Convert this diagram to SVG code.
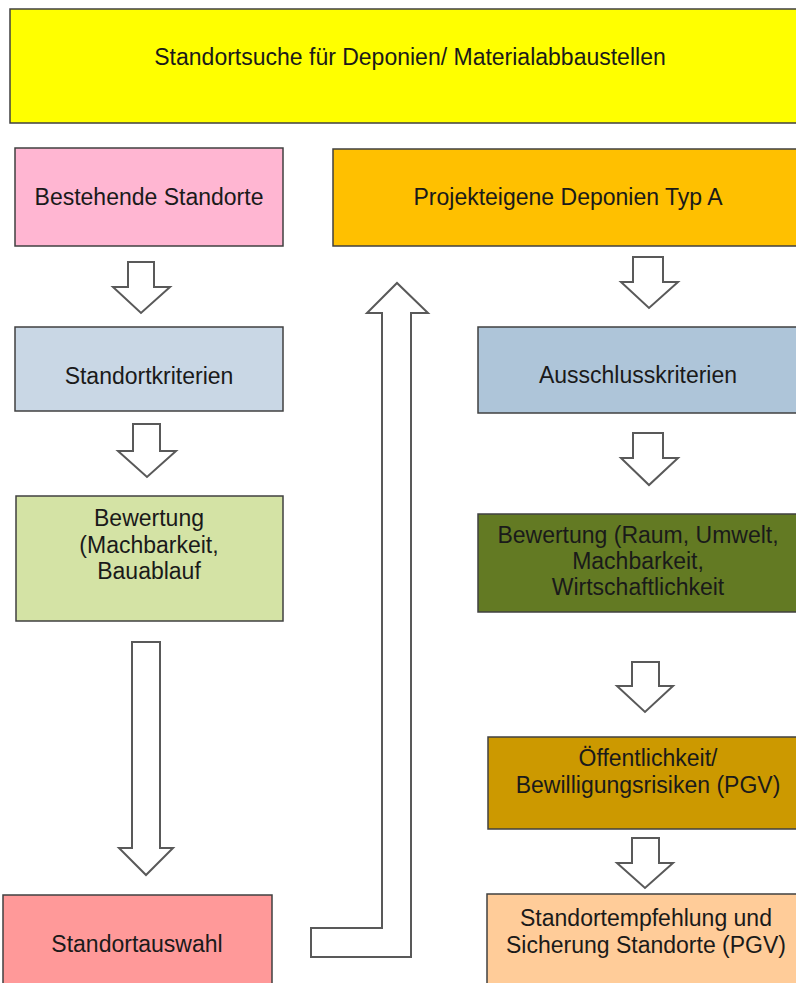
<svg xmlns="http://www.w3.org/2000/svg" width="796" height="983" viewBox="0 0 796 983">
<style>
.box{stroke:#404040;stroke-width:1.5}
.t{font-family:"Liberation Sans",Arial,sans-serif;font-size:23px;fill:#1a1a1a;text-anchor:middle}
.arr{fill:#ffffff;stroke:#595959;stroke-width:2;stroke-linejoin:miter}
</style>
<rect width="796" height="983" fill="#ffffff"/>
<g id="n-top"><rect class="box" x="10" y="9" width="800" height="114" fill="#FFFF00"/><text class="t" x="410" y="65">Standortsuche für Deponien/ Materialabbaustellen</text></g>
<g id="n-bestehend"><rect class="box" x="15" y="148" width="268" height="98" fill="#FFB6D2"/><text class="t" x="149" y="205">Bestehende Standorte</text></g>
<g id="n-kriterien"><rect class="box" x="15" y="327" width="268" height="84" fill="#C9D7E5"/><text class="t" x="149" y="384">Standortkriterien</text></g>
<g id="n-bewertung-l"><rect class="box" x="16" y="496" width="267" height="125" fill="#D4E3A5"/><text class="t" x="149" y="526">Bewertung</text><text class="t" x="149" y="553">(Machbarkeit,</text><text class="t" x="149" y="579">Bauablauf</text></g>
<g id="n-auswahl"><rect class="box" x="3" y="895" width="269" height="100" fill="#FF9999"/><text class="t" x="137" y="952">Standortauswahl</text></g>
<g id="n-projekt"><rect class="box" x="333" y="149" width="471" height="97" fill="#FFC000"/><text class="t" x="568" y="205">Projekteigene Deponien Typ A</text></g>
<g id="n-ausschluss"><rect class="box" x="478" y="327" width="320" height="86" fill="#AEC5D9"/><text class="t" x="638" y="383">Ausschlusskriterien</text></g>
<g id="n-bewertung-r"><rect class="box" x="478" y="514" width="320" height="98" fill="#637A23"/><text class="t" x="638" y="543">Bewertung (Raum, Umwelt,</text><text class="t" x="638" y="569">Machbarkeit,</text><text class="t" x="638" y="595">Wirtschaftlichkeit</text></g>
<g id="n-oeffentlich"><rect class="box" x="488" y="737" width="321" height="92" fill="#CC9900"/><text class="t" x="648" y="766">Öffentlichkeit/</text><text class="t" x="648" y="793">Bewilligungsrisiken (PGV)</text></g>
<g id="n-empfehlung"><rect class="box" x="487" y="894" width="318" height="100" fill="#FFCC99"/><text class="t" x="646" y="926">Standortempfehlung und</text><text class="t" x="646" y="953">Sicherung Standorte (PGV)</text></g>
<g id="connectors">
<path class="arr" d="M128,262 H154 V287 H170 L141,313 L113,287 H128 Z"/>
<path class="arr" d="M133,424 H160 V451 H176 L147,477 L118,451 H133 Z"/>
<path class="arr" d="M132,642 H160 V848 H173 L146,875 L119,848 H132 Z"/>
<path class="arr" d="M311,928 H382 V313 H367 L397,283 L428,313 H411 V957 H311 Z"/>
<path class="arr" d="M633,257 H663 V282 H678 L649,308 L621,282 H633 Z"/>
<path class="arr" d="M633,433 H663 V458 H678 L649,485 L621,458 H633 Z"/>
<path class="arr" d="M632,662 H659 V686 H673 L645,712 L617,686 H632 Z"/>
<path class="arr" d="M632,838 H659 V863 H673 L645,888 L617,863 H632 Z"/>
</g>
</svg>
